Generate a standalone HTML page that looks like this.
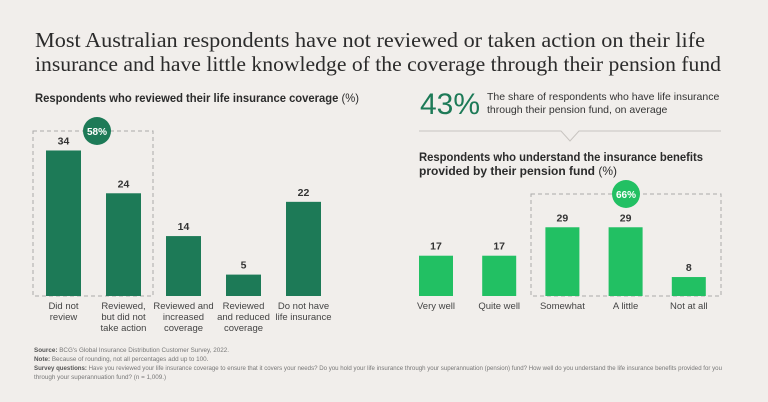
<!DOCTYPE html>
<html><head><meta charset="utf-8"><style>
html,body{margin:0;padding:0;background:#f1eeeb;}
svg{display:block;font-family:"Liberation Sans",sans-serif;}
</style></head><body>
<svg width="768" height="402" viewBox="0 0 768 402">
<rect width="768" height="402" fill="#f1eeeb"/>
<g font-family="Liberation Serif, serif" font-size="21" fill="#2b2b2b">
<text x="35" y="47" textLength="670" lengthAdjust="spacingAndGlyphs">Most Australian respondents have not reviewed or taken action on their life</text>
<text x="35" y="71" textLength="686" lengthAdjust="spacingAndGlyphs">insurance and have little knowledge of the coverage through their pension fund</text>
</g>
<text x="35" y="102" font-size="12" font-weight="bold" fill="#2b2b2b" textLength="324" lengthAdjust="spacingAndGlyphs">Respondents who reviewed their life insurance coverage <tspan font-weight="normal">(%)</tspan></text>
<rect x="33" y="131" width="120" height="165" fill="none" stroke="#aaa" stroke-dasharray="4,3"/>
<circle cx="97" cy="131" r="14" fill="#1d7a57"/>
<text x="97" y="135" font-size="10" font-weight="bold" fill="#fff" text-anchor="middle">58%</text>
<g id="left"></g>
<text x="420" y="114" font-size="30" fill="#1d7a57">43%</text>
<g font-size="10.5" fill="#333">
<text x="487" y="100">The share of respondents who have life insurance</text>
<text x="487" y="113">through their pension fund, on average</text>
</g>
<polyline points="419,131 561,131 570,141 579,131 721,131" fill="none" stroke="#c8c4c0" stroke-width="1"/>
<g font-size="12" font-weight="bold" fill="#2b2b2b">
<text x="419" y="161" textLength="284" lengthAdjust="spacingAndGlyphs">Respondents who understand the insurance benefits</text>
<text x="419" y="175">provided by their pension fund <tspan font-weight="normal">(%)</tspan></text>
</g>
<rect x="531" y="194" width="190" height="102" fill="none" stroke="#aaa" stroke-dasharray="4,3"/>
<circle cx="626" cy="194" r="14" fill="#22c063"/>
<text x="626" y="198" font-size="10" font-weight="bold" fill="#fff" text-anchor="middle">66%</text>
<g id="right"></g>
<g font-size="6.3" fill="#777">
<text x="34" y="352"><tspan font-weight="bold" fill="#555">Source:</tspan> BCG's Global Insurance Distribution Customer Survey, 2022.</text>
<text x="34" y="361"><tspan font-weight="bold" fill="#555">Note:</tspan> Because of rounding, not all percentages add up to 100.</text>
<text x="34" y="370" textLength="688" lengthAdjust="spacingAndGlyphs"><tspan font-weight="bold" fill="#555">Survey questions:</tspan> Have you reviewed your life insurance coverage to ensure that it covers your needs? Do you hold your life insurance through your superannuation (pension) fund? How well do you understand the life insurance benefits provided for you</text>
<text x="34" y="379">through your superannuation fund? (n = 1,009.)</text>
</g>
</svg>
<script>
const leftCategories = [["Did not","review"],["Reviewed,","but did not","take action"],["Reviewed and","increased","coverage"],["Reviewed","and reduced","coverage"],["Do not have","life insurance"]];
const leftValues = [34, 24, 14, 5, 22];
const rightCategories = [["Very well"],["Quite well"],["Somewhat"],["A little"],["Not at all"]];
const rightValues = [17, 17, 29, 29, 8];
const NS = "http://www.w3.org/2000/svg";
function drawChart(gid, cats, vals, x0, step, bw, pxPerUnit, color, prefix){
  const g = document.getElementById(gid);
  const base = 296;
  const y = v => base - v * pxPerUnit;
  vals.forEach((v,i)=>{
    const x = x0 + i*step;
    const r = document.createElementNS(NS,"rect");
    
    
    r.setAttribute("x", x); r.setAttribute("y", y(v));
    r.setAttribute("width", bw); r.setAttribute("height", base - y(v));
    r.setAttribute("fill", color);
    g.appendChild(r);
    const t = document.createElementNS(NS,"text");
    
    
    t.setAttribute("x", x + bw/2); t.setAttribute("y", y(v) - 6);
    t.setAttribute("text-anchor","middle"); t.setAttribute("font-size","10.5");
    t.setAttribute("font-weight","bold"); t.setAttribute("fill","#333");
    t.textContent = v; g.appendChild(t);
    cats[i].forEach((line,j)=>{
      const c = document.createElementNS(NS,"text");
      
      
      c.setAttribute("x", x + bw/2); c.setAttribute("y", 309 + j*11);
      c.setAttribute("text-anchor","middle"); c.setAttribute("font-size","9.5");
      c.setAttribute("fill","#444");
      c.textContent = line; g.appendChild(c);
    });
  });
}
drawChart("left", leftCategories, leftValues, 46, 60, 35, 4.28, "#1d7a57", "left");
drawChart("right", rightCategories, rightValues, 419, 63.2, 34, 2.37, "#22c063", "right");
</script>
</body></html>
